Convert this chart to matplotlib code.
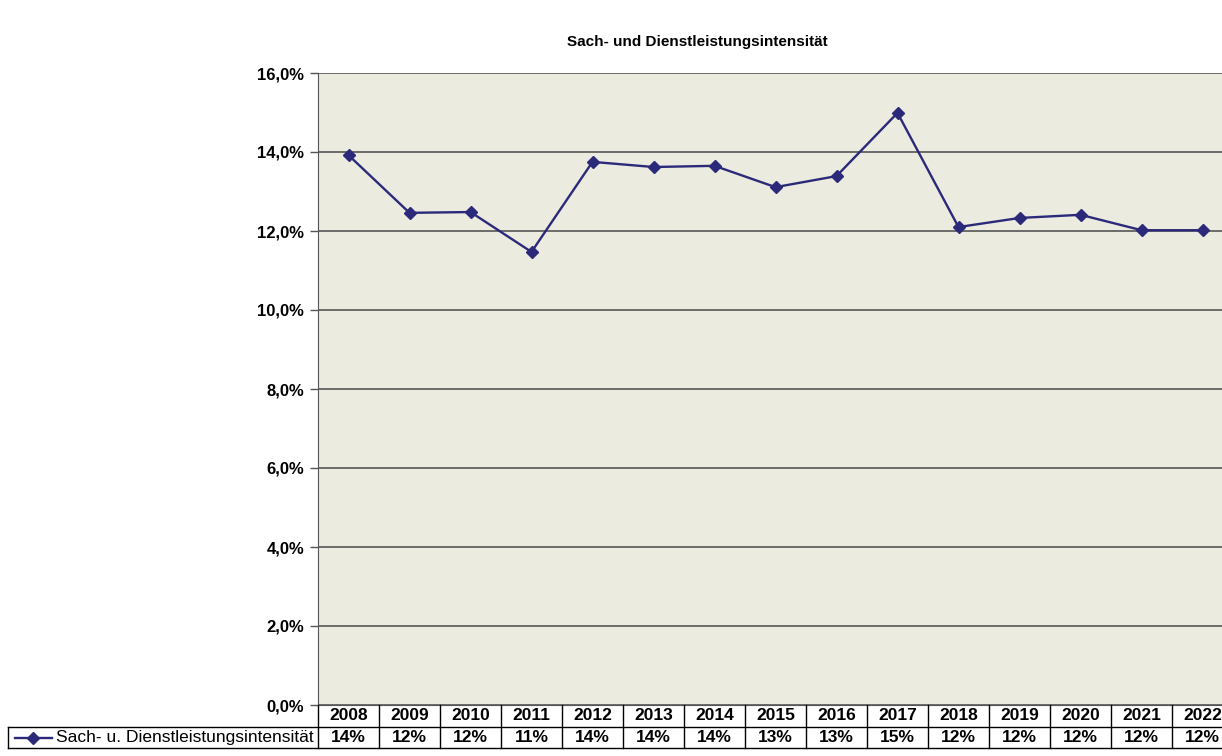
import numpy as np
import matplotlib.pyplot as plt
from matplotlib.lines import Line2D
import matplotlib.transforms as mtransforms

plt.rcParams['font.family'] = ['Liberation Sans', 'DejaVu Sans']

# values (percent)
years = ['2008', '2009', '2010', '2011', '2012', '2013', '2014', '2015',
         '2016', '2017', '2018', '2019', '2020', '2021', '2022']
intensity = [13.92, 12.46, 12.48, 11.47, 13.75, 13.62, 13.65, 13.11,
             13.39, 14.99, 12.10, 12.33, 12.41, 12.02, 12.02]
series_name = 'Sach- u. Dienstleistungsintensität'
title = 'Sach- und Dienstleistungsintensität'
yticks = [0, 2, 4, 6, 8, 10, 12, 14, 16]

W, H = 1222, 756
fig = plt.figure(figsize=(W / 100, H / 100), dpi=100)
fig.patch.set_facecolor('white')

# plot area in pixels: left 318, top 73, bottom 705, one category = 61 px
ax = fig.add_axes([318 / W, (H - 705) / H, 915 / W, 632 / H])
ax.set_facecolor('#ECEBE0')
x = np.arange(len(years))
line_color = '#2B2A7A'
ax.plot(x, intensity, color=line_color, lw=1.7, marker='D', ms=6,
        markeredgecolor=line_color, markerfacecolor=line_color, zorder=3)

ax.set_xlim(-0.5, len(years) - 0.5)
ax.set_ylim(0, 16)
ax.set_yticks(yticks)
ax.set_yticklabels([f'{v:.1f}%'.replace('.', ',') for v in yticks],
                   fontsize=12, fontweight='bold')
ax.tick_params(axis='y', length=6, width=1, color='#555555', pad=4)
ax.set_xticks([])
ax.grid(axis='y', color='#555555', lw=1.2)
ax.set_axisbelow(True)
for s in ['top', 'right']:
    ax.spines[s].set_visible(False)
ax.spines['left'].set_color('#555555')
ax.spines['bottom'].set_color('#555555')

fig.text(697 / W, 1 - 42 / H, title, ha='center', va='center',
         fontsize=11, fontweight='bold')

# data table below the plot
blend = mtransforms.blended_transform_factory(ax.transData, fig.transFigure)
y_top = 1 - 705 / H
y_mid = 1 - 727 / H
y_bot = 1 - 748 / H
lc = 'black'
for i, (yr, v) in enumerate(zip(years, intensity)):
    ax.text(i, (y_top + y_mid) / 2, yr, transform=blend, ha='center',
            va='center', fontsize=12.5, fontweight='bold', clip_on=False)
    ax.text(i, (y_mid + y_bot) / 2, f'{v:.0f}%', transform=blend,
            ha='center', va='center', fontsize=12.5, fontweight='bold',
            clip_on=False)
for i in range(len(years) + 1):
    fig.add_artist(Line2D([i - 0.5, i - 0.5], [y_bot, y_top], color=lc,
                          lw=1, transform=blend))
for yy in [y_mid, y_bot]:
    fig.add_artist(Line2D([8 / W, 1], [yy, yy], color=lc, lw=1,
                          transform=fig.transFigure))
fig.add_artist(Line2D([8 / W, 8 / W], [y_bot, y_mid], color=lc, lw=1,
                      transform=fig.transFigure))

# legend key in the table
ly = (y_mid + y_bot) / 2
fig.add_artist(Line2D([15 / W, 52 / W], [ly, ly], color=line_color, lw=1.7,
                      transform=fig.transFigure))
fig.add_artist(Line2D([33 / W], [ly], color=line_color, marker='D', ms=6,
                      transform=fig.transFigure))
fig.text(56 / W, ly, series_name, ha='left', va='center', fontsize=12.5)

fig.savefig('out.png', dpi=100)
